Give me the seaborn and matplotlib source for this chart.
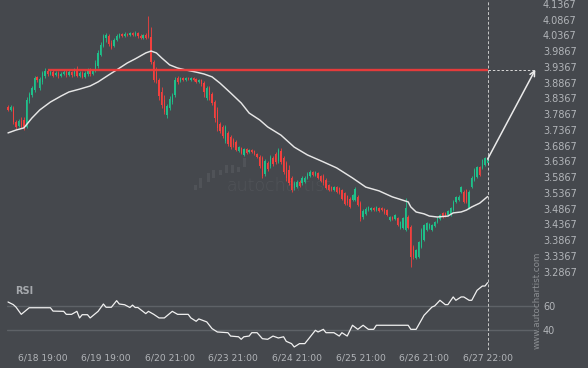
import numpy as np
import matplotlib
matplotlib.use("Agg")
import matplotlib.pyplot as plt
import seaborn as sns
from matplotlib.patches import Rectangle

# ---------------- data (hourly candles, index 0 .. 181) ----------------
opens = [
3.809, 3.800, 3.806, 3.762, 3.749, 3.765, 3.768, 3.746, 3.828, 3.847,
3.863, 3.905, 3.870, 3.889, 3.908, 3.924, 3.914, 3.920, 3.911, 3.917,
3.908, 3.914, 3.920, 3.911, 3.920, 3.914, 3.927, 3.908, 3.917, 3.905,
3.914, 3.927, 3.914, 3.924, 3.939, 3.974, 4.003, 4.028, 4.035, 4.012,
4.003, 4.022, 4.032, 4.041, 4.035, 4.041, 4.038, 4.044, 4.038, 4.044,
4.035, 4.028, 4.038, 4.054, 4.032, 3.952, 3.920, 3.895, 3.857, 3.832,
3.784, 3.806, 3.825, 3.847, 3.901, 3.892, 3.901, 3.895, 3.901, 3.895,
3.901, 3.898, 3.889, 3.895, 3.885, 3.838, 3.870, 3.851, 3.825, 3.800,
3.755, 3.746, 3.701, 3.727, 3.714, 3.705, 3.698, 3.670, 3.679, 3.657,
3.676, 3.666, 3.673, 3.670, 3.660, 3.651, 3.647, 3.597, 3.631, 3.622,
3.647, 3.660, 3.638, 3.670, 3.647, 3.631, 3.609, 3.584, 3.552, 3.555,
3.571, 3.568, 3.571, 3.584, 3.590, 3.603, 3.593, 3.600, 3.590, 3.590,
3.578, 3.562, 3.555, 3.546, 3.555, 3.552, 3.546, 3.536, 3.527, 3.517,
3.514, 3.514, 3.524, 3.504, 3.460, 3.470, 3.482, 3.482, 3.489, 3.482,
3.489, 3.489, 3.485, 3.482, 3.451, 3.460, 3.454, 3.457, 3.425, 3.425,
3.419, 3.460, 3.428, 3.365, 3.330, 3.333, 3.365, 3.387, 3.419, 3.425,
3.419, 3.431, 3.444, 3.454, 3.473, 3.473, 3.466, 3.466, 3.482, 3.508,
3.514, 3.539, 3.539, 3.546, 3.489, 3.555, 3.578, 3.587, 3.619, 3.616,
3.625, 3.631]

closes = [
3.800, 3.809, 3.762, 3.746, 3.765, 3.746, 3.743, 3.832, 3.851, 3.870,
3.901, 3.895, 3.898, 3.917, 3.924, 3.914, 3.920, 3.908, 3.917, 3.908,
3.914, 3.920, 3.911, 3.920, 3.911, 3.927, 3.908, 3.917, 3.905, 3.917,
3.927, 3.914, 3.924, 3.949, 3.981, 4.006, 4.035, 4.038, 4.009, 3.997,
4.022, 4.035, 4.041, 4.035, 4.041, 4.038, 4.044, 4.038, 4.044, 4.035,
4.028, 4.038, 4.028, 4.032, 3.952, 3.895, 3.895, 3.844, 3.816, 3.793,
3.812, 3.835, 3.847, 3.895, 3.889, 3.901, 3.895, 3.901, 3.898, 3.901,
3.895, 3.889, 3.895, 3.882, 3.857, 3.870, 3.847, 3.822, 3.774, 3.743,
3.733, 3.717, 3.746, 3.692, 3.682, 3.689, 3.673, 3.682, 3.663, 3.676,
3.663, 3.673, 3.666, 3.660, 3.651, 3.622, 3.590, 3.638, 3.612, 3.651,
3.628, 3.635, 3.673, 3.635, 3.603, 3.584, 3.568, 3.546, 3.568, 3.571,
3.558, 3.584, 3.584, 3.597, 3.603, 3.593, 3.603, 3.584, 3.574, 3.568,
3.552, 3.546, 3.546, 3.555, 3.539, 3.536, 3.517, 3.501, 3.504, 3.492,
3.530, 3.549, 3.498, 3.454, 3.479, 3.485, 3.492, 3.489, 3.482, 3.492,
3.479, 3.482, 3.473, 3.466, 3.460, 3.454, 3.466, 3.435, 3.444, 3.457,
3.489, 3.425, 3.333, 3.333, 3.355, 3.381, 3.419, 3.435, 3.441, 3.438,
3.435, 3.444, 3.457, 3.466, 3.460, 3.463, 3.479, 3.489, 3.508, 3.524,
3.524, 3.555, 3.508, 3.508, 3.539, 3.584, 3.609, 3.619, 3.593, 3.641,
3.647, 3.644]

highs = [
3.816, 3.816, 3.812, 3.768, 3.771, 3.778, 3.778, 3.841, 3.857, 3.876,
3.908, 3.908, 3.905, 3.924, 3.933, 3.930, 3.927, 3.927, 3.924, 3.924,
3.920, 3.927, 3.927, 3.927, 3.924, 3.933, 3.939, 3.924, 3.924, 3.924,
3.933, 3.933, 3.930, 3.959, 3.990, 4.016, 4.041, 4.044, 4.041, 4.022,
4.028, 4.041, 4.044, 4.044, 4.047, 4.044, 4.047, 4.047, 4.051, 4.047,
4.041, 4.041, 4.044, 4.098, 4.063, 3.959, 3.936, 3.901, 3.873, 3.847,
3.819, 3.844, 3.854, 3.905, 3.908, 3.905, 3.905, 3.905, 3.905, 3.905,
3.905, 3.901, 3.898, 3.898, 3.892, 3.876, 3.876, 3.857, 3.832, 3.809,
3.762, 3.752, 3.752, 3.733, 3.720, 3.711, 3.705, 3.685, 3.682, 3.679,
3.679, 3.676, 3.676, 3.673, 3.663, 3.657, 3.654, 3.644, 3.638, 3.657,
3.654, 3.666, 3.679, 3.679, 3.654, 3.638, 3.625, 3.590, 3.574, 3.578,
3.578, 3.590, 3.590, 3.603, 3.609, 3.606, 3.606, 3.603, 3.593, 3.597,
3.584, 3.565, 3.558, 3.558, 3.558, 3.555, 3.549, 3.539, 3.530, 3.524,
3.533, 3.555, 3.530, 3.511, 3.485, 3.492, 3.495, 3.492, 3.492, 3.495,
3.492, 3.492, 3.489, 3.485, 3.463, 3.463, 3.470, 3.460, 3.447, 3.460,
3.520, 3.466, 3.435, 3.371, 3.358, 3.384, 3.425, 3.438, 3.444, 3.441,
3.438, 3.447, 3.460, 3.470, 3.476, 3.476, 3.482, 3.492, 3.514, 3.527,
3.530, 3.558, 3.546, 3.549, 3.546, 3.590, 3.616, 3.622, 3.622, 3.644,
3.651, 3.654]

lows = [
3.797, 3.797, 3.755, 3.739, 3.746, 3.743, 3.736, 3.743, 3.822, 3.841,
3.857, 3.889, 3.863, 3.882, 3.901, 3.908, 3.911, 3.905, 3.908, 3.901,
3.905, 3.911, 3.905, 3.908, 3.905, 3.908, 3.905, 3.905, 3.901, 3.901,
3.908, 3.908, 3.911, 3.920, 3.933, 3.971, 4.000, 4.016, 4.003, 3.993,
4.000, 4.019, 4.028, 4.032, 4.032, 4.035, 4.035, 4.035, 4.035, 4.028,
4.025, 4.025, 4.025, 4.028, 3.946, 3.889, 3.885, 3.832, 3.806, 3.787,
3.774, 3.800, 3.819, 3.841, 3.882, 3.889, 3.892, 3.892, 3.895, 3.892,
3.892, 3.885, 3.885, 3.876, 3.841, 3.832, 3.832, 3.816, 3.762, 3.733,
3.727, 3.711, 3.695, 3.685, 3.676, 3.682, 3.670, 3.666, 3.660, 3.654,
3.660, 3.663, 3.663, 3.657, 3.647, 3.616, 3.584, 3.590, 3.606, 3.616,
3.622, 3.628, 3.631, 3.628, 3.597, 3.574, 3.562, 3.539, 3.546, 3.552,
3.555, 3.562, 3.568, 3.581, 3.587, 3.590, 3.590, 3.581, 3.571, 3.562,
3.549, 3.543, 3.543, 3.543, 3.536, 3.533, 3.514, 3.498, 3.498, 3.489,
3.511, 3.511, 3.495, 3.447, 3.454, 3.466, 3.479, 3.479, 3.479, 3.479,
3.476, 3.479, 3.470, 3.463, 3.447, 3.451, 3.451, 3.431, 3.422, 3.422,
3.416, 3.422, 3.301, 3.327, 3.327, 3.330, 3.362, 3.384, 3.416, 3.422,
3.416, 3.428, 3.441, 3.451, 3.457, 3.460, 3.463, 3.463, 3.479, 3.504,
3.511, 3.536, 3.504, 3.504, 3.485, 3.552, 3.574, 3.584, 3.590, 3.612,
3.622, 3.628]

# moving average (read at selected candles)
ma_idx = [0, 3, 6, 9, 12, 16, 20, 23, 27, 31, 34, 38, 41, 45, 48, 52, 54, 56,
          58, 61, 64, 67, 71, 74, 77, 80, 84, 88, 91, 95, 98, 103, 108, 113,
          119, 124, 130, 135, 140, 145, 151, 152, 154, 157, 159, 162, 166, 168,
          171, 173, 175, 178, 181]
ma_vals = [3.727, 3.736, 3.743, 3.774, 3.800, 3.825, 3.844, 3.857, 3.866, 3.876,
           3.889, 3.911, 3.927, 3.949, 3.962, 3.981, 3.987, 3.981, 3.965, 3.943,
           3.933, 3.927, 3.920, 3.914, 3.905, 3.885, 3.854, 3.822, 3.790, 3.768,
           3.746, 3.720, 3.682, 3.657, 3.635, 3.616, 3.584, 3.555, 3.543, 3.524,
           3.508, 3.492, 3.476, 3.470, 3.463, 3.460, 3.463, 3.473, 3.476, 3.482,
           3.492, 3.504, 3.525]

# RSI (read at selected candles)
rsi_idx = [0, 2, 3, 5, 8, 16, 17, 21, 22, 24, 26, 27, 28, 30, 31, 34, 36, 37,
           39, 41, 42, 44, 46, 47, 48, 49, 52, 53, 55, 57, 59, 62, 64, 68, 69,
           71, 72, 75, 77, 79, 83, 84, 87, 88, 89, 91, 92, 94, 96, 98, 100, 102,
           104, 105, 107, 108, 110, 112, 116, 117, 119, 120, 123, 125, 126, 128,
           130, 132, 134, 136, 138, 139, 151, 152, 154, 157, 160, 161, 163, 165,
           166, 168, 169, 171, 172, 174, 175, 177, 179, 180, 181]
rsi_vals = [63.6, 61.4, 59.4, 53.3, 58.8, 58.8, 56.0, 55.8, 53.3, 53.3, 55.8,
            50.3, 53.0, 53.0, 50.3, 55.8, 61.9, 59.2, 59.2, 64.7, 61.9, 61.3,
            59.0, 61.0, 59.0, 59.0, 53.9, 55.8, 53.3, 50.3, 50.3, 55.8, 53.3,
            53.3, 50.3, 47.5, 49.5, 47.0, 41.4, 38.6, 38.0, 35.2, 34.6, 32.5,
            34.6, 35.2, 38.0, 38.0, 33.0, 32.5, 35.2, 33.6, 34.6, 30.8, 28.9,
            26.1, 28.9, 28.9, 40.0, 38.6, 40.8, 38.0, 38.0, 35.2, 38.0, 35.2,
            44.2, 40.8, 44.2, 40.8, 40.8, 44.2, 44.2, 40.8, 40.8, 52.5, 59.4,
            60.3, 65.0, 61.4, 61.4, 67.8, 65.0, 67.8, 67.8, 65.0, 65.0, 73.3,
            76.9, 76.9, 79.7]
rsi_ticks = [40, 60]

price_ticks = [4.1367, 4.0867, 4.0367, 3.9867, 3.9367, 3.8867, 3.8367, 3.7867,
               3.7367, 3.6867, 3.6367, 3.5867, 3.5367, 3.4867, 3.4367, 3.3867,
               3.3367, 3.2867]

xtick_idx = [13, 37, 61, 85, 109, 133, 157, 181]
xtick_labels = ["6/18 19:00", "6/19 19:00", "6/20 21:00", "6/23 21:00",
                "6/24 21:00", "6/25 21:00", "6/26 21:00", "6/27 22:00"]

level = 3.928          # resistance level
level_start = 15       # candle where the level begins
target_idx = 199       # projection end

# ---------------- styling ----------------
BG = "#45484d"
GREEN = "#1fc08a"
RED = "#f2403e"
LABEL = "#b2b5b9"

sns.set_theme(style="dark", rc={"axes.facecolor": BG, "figure.facecolor": BG,
                                "savefig.facecolor": BG})
plt.rcParams["font.family"] = ["DejaVu Sans"]

W, H = 588, 368
fig = plt.figure(figsize=(W / 100, H / 100), dpi=100)

px_per = 2.65
x_left, x_right, first_x = 7, 537, 8
xmin = -(first_x - x_left) / px_per
xmax = xmin + (x_right - x_left) / px_per

ax = fig.add_axes([x_left / W, 1 - 277 / H, (x_right - x_left) / W, 277 / H])
ax_r = fig.add_axes([x_left / W, 1 - 350 / H, (x_right - x_left) / W, 73 / H])

for a in (ax, ax_r):
    a.set_facecolor(BG)
    for s in a.spines.values():
        s.set_visible(False)
    a.set_xlim(xmin, xmax)
    a.grid(False)

O = np.array(opens); C = np.array(closes)
Hh = np.array(highs); L = np.array(lows)
idx = np.arange(len(C))
cols = np.where(C >= O, GREEN, RED)

# watermark (behind candles)
ax.text(227 / W, 1 - 186 / H, "autochartist", transform=fig.transFigure,
        fontsize=12.5, color="#505358", va="center", ha="left",
        fontweight="light", zorder=0)
icon = [(194, 185, 190), (199, 178, 188), (207, 173, 182), (212, 170, 178),
        (219, 170, 175), (225, 165, 173), (231, 165, 173), (237, 167, 172),
        (243, 158, 167)]
for bx, y0, y1 in icon:
    ax.add_patch(Rectangle((bx / W, 1 - y1 / H), 3 / W, (y1 - y0) / H,
                           transform=fig.transFigure, color="#505358",
                           lw=0, zorder=0))

# candles
ax.vlines(idx, L, Hh, colors=cols, lw=0.6, zorder=2)
ax.bar(idx, np.maximum(np.abs(C - O), 0.002), bottom=np.minimum(O, C),
       width=0.52, color=cols, linewidth=0, zorder=2)

# moving average
sns.lineplot(x=ma_idx, y=ma_vals, ax=ax, color="#e6e6e6", lw=1.05, zorder=3)

# level line
last = idx[-1]
ax.plot([level_start, last], [level, level], color="#ee3b3b", lw=1.7,
        alpha=0.95, zorder=4, solid_capstyle="butt")
ax.plot([last, target_idx], [level, level], color="#d8d8d8", lw=0.7,
        ls=(0, (2.5, 2)), zorder=4)
ax.annotate("", xy=(target_idx, level), xytext=(last, C[-1]),
            arrowprops=dict(arrowstyle="->", color="#eaeaea", lw=1.1,
                            mutation_scale=9, shrinkA=0, shrinkB=0),
            zorder=5)
for a in (ax, ax_r):
    a.axvline(last, color="#c8c8c8", lw=0.7, ls=(0, (3, 2)), zorder=4)

ax.set_ylim(4.149 - 0.003175 * 277, 4.149)
ax.yaxis.tick_right()
ax.set_yticks(price_ticks)
ax.set_yticklabels([f"{v:.4f}" for v in price_ticks])
ax.set_xticks([])
ax.tick_params(axis="y", length=0, pad=4.3, labelsize=7, labelcolor=LABEL)
ax.set_xlabel(""); ax.set_ylabel("")

# RSI panel
sns.lineplot(x=rsi_idx, y=rsi_vals, ax=ax_r, color="#f0f0f0", lw=0.9, zorder=3)
ax_r.set_ylim(60 - (350 - 306.3) / 1.2, 60 + (306.3 - 277) / 1.2)
for t in rsi_ticks:
    ax_r.axhline(t, color="#5e6267", lw=1.0, zorder=1)
ax_r.yaxis.tick_right()
ax_r.set_yticks(rsi_ticks)
ax_r.set_yticklabels([str(t) for t in rsi_ticks])
ax_r.set_xticks(xtick_idx)
ax_r.set_xticklabels(xtick_labels)
ax_r.tick_params(axis="y", length=0, pad=4.3, labelsize=7, labelcolor=LABEL)
ax_r.tick_params(axis="x", length=0, pad=2.5, labelsize=6.6, labelcolor=LABEL)
ax_r.set_xlabel(""); ax_r.set_ylabel("")

fig.text(15 / W, 1 - 291 / H, "RSI", fontsize=7, fontweight="bold",
         color="#a6a9ad", va="center", ha="left")
fig.text(537 / W, 1 - 300 / H, "www.autochartist.com", rotation=90,
         fontsize=6.3, color="#8a8d91", va="center", ha="center")

fig.savefig("out.png", dpi=100, facecolor=BG)
